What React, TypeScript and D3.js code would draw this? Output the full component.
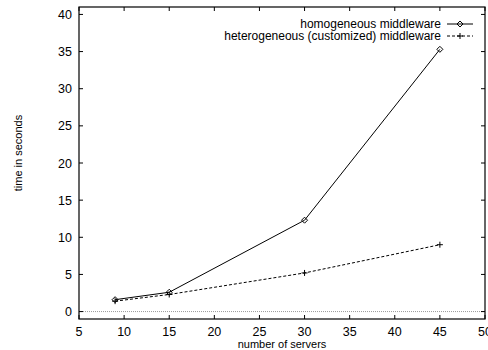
import * as d3 from 'd3'
import { useEffect, useRef } from 'react'

const servers = [9, 15, 30, 45]
const homogeneous = [1.6, 2.6, 12.3, 35.3]
const heterogeneous = [1.4, 2.3, 5.2, 9.0]
const xTicks = [5, 10, 15, 20, 25, 30, 35, 40, 45, 50]
const yTicks = [0, 5, 10, 15, 20, 25, 30, 35, 40]
const seriesNames = ['homogeneous middleware', 'heterogeneous (customized) middleware']

function App() {
  const ref = useRef<SVGSVGElement>(null)

  useEffect(() => {
    const svg = d3.select(ref.current)
    svg.selectAll('*').remove()

    const left = 79, right = 485, top = 7, bottom = 319
    const x = d3.scaleLinear().domain([5, 50]).range([left, right])
    const y = d3.scaleLinear().domain([-1, 41]).range([bottom, top])
    const font = 'Liberation Sans, Arial, sans-serif'

    // zero line
    svg.append('line')
      .attr('x1', left).attr('x2', right)
      .attr('y1', y(0)).attr('y2', y(0))
      .attr('stroke', '#999').attr('stroke-dasharray', '1,1')

    // ticks (mirrored, inward)
    const g = svg.append('g').attr('stroke', '#000')
    xTicks.forEach(t => {
      g.append('line').attr('x1', x(t)).attr('x2', x(t)).attr('y1', bottom).attr('y2', bottom - 4)
      g.append('line').attr('x1', x(t)).attr('x2', x(t)).attr('y1', top).attr('y2', top + 4)
    })
    yTicks.forEach(t => {
      g.append('line').attr('y1', y(t)).attr('y2', y(t)).attr('x1', left).attr('x2', left + 4)
      g.append('line').attr('y1', y(t)).attr('y2', y(t)).attr('x1', right).attr('x2', right - 4)
    })

    svg.append('rect')
      .attr('x', left).attr('y', top)
      .attr('width', right - left).attr('height', bottom - top)
      .attr('fill', 'none').attr('stroke', '#000').attr('stroke-width', 1.2)

    svg.append('g').selectAll('text').data(xTicks).join('text')
      .attr('x', d => x(d)).attr('y', 336)
      .attr('text-anchor', 'middle')
      .attr('font-family', font).attr('font-size', 12.5)
      .text(d => d)

    svg.append('g').selectAll('text').data(yTicks).join('text')
      .attr('x', 72).attr('y', d => y(d) + 4.5)
      .attr('text-anchor', 'end')
      .attr('font-family', font).attr('font-size', 12.5)
      .text(d => d)

    svg.append('text')
      .attr('x', (left + right) / 2).attr('y', 347.5)
      .attr('text-anchor', 'middle')
      .attr('font-family', font).attr('font-size', 11)
      .text('number of servers')

    svg.append('text')
      .attr('transform', 'translate(22,153) rotate(-90)')
      .attr('text-anchor', 'middle')
      .attr('font-family', font).attr('font-size', 11)
      .text('time in seconds')

    const line = d3.line<number>().x((d, i) => x(servers[i])).y(d => y(d))

    const diamond = (sel: any, cx: number, cy: number) => {
      sel.append('path')
        .attr('d', `M${cx},${cy - 3}L${cx + 3},${cy}L${cx},${cy + 3}L${cx - 3},${cy}Z`)
        .attr('fill', 'none').attr('stroke', '#000')
    }
    const plus = (sel: any, cx: number, cy: number) => {
      sel.append('path')
        .attr('d', `M${cx - 3},${cy}H${cx + 3}M${cx},${cy - 3}V${cy + 3}`)
        .attr('fill', 'none').attr('stroke', '#000')
    }

    svg.append('path').datum(homogeneous)
      .attr('d', line).attr('fill', 'none').attr('stroke', '#000')
    svg.append('path').datum(heterogeneous)
      .attr('d', line).attr('fill', 'none').attr('stroke', '#000')
      .attr('stroke-dasharray', '3,2')

    homogeneous.forEach((v, i) => diamond(svg, x(servers[i]), y(v)))
    heterogeneous.forEach((v, i) => plus(svg, x(servers[i]), y(v)))

    // legend
    const rows = [24, 36]
    seriesNames.forEach((name, i) => {
      svg.append('text')
        .attr('x', 441).attr('y', rows[i] + 4)
        .attr('text-anchor', 'end')
        .attr('font-family', font).attr('font-size', 12)
        .text(name)
      const ln = svg.append('line')
        .attr('x1', 447).attr('x2', 473)
        .attr('y1', rows[i]).attr('y2', rows[i])
        .attr('stroke', '#000')
      if (i === 1) ln.attr('stroke-dasharray', '3,2')
      if (i === 0) diamond(svg, 460, rows[i])
      else plus(svg, 460, rows[i])
    })
  }, [])

  return (
    <svg ref={ref} width={488} height={350}
      style={{ position: 'absolute', left: 0, top: 0, background: '#fff' }} />
  )
}

export default App
